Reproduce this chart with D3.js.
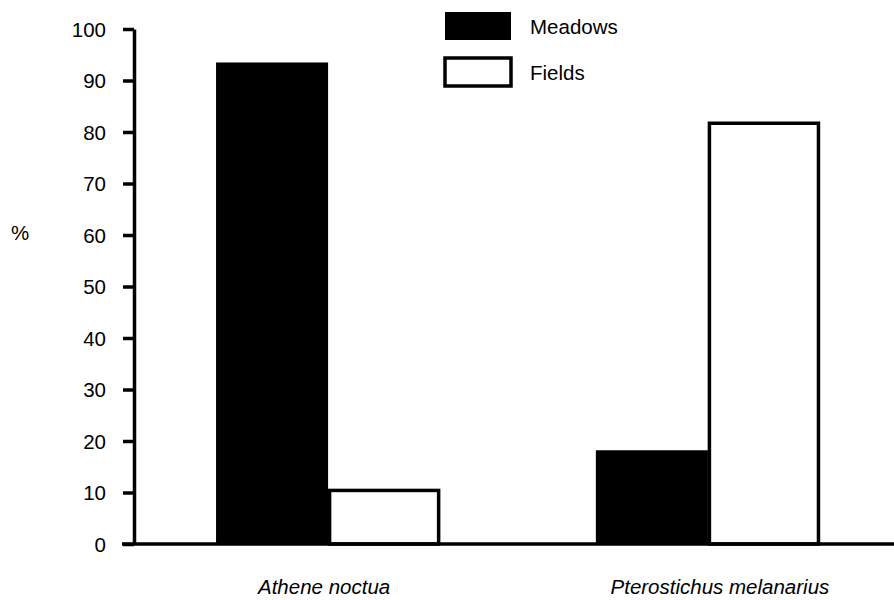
<!DOCTYPE html>
<html>
<head>
<meta charset="utf-8">
<script src="https://cdn.jsdelivr.net/npm/d3@7"></script>
<style>
  body { margin: 0; background: #fff; }
  text { font-family: "Liberation Sans", Arial, sans-serif; fill: #000; }
</style>
</head>
<body>
<svg id="chart"></svg>
<script>
// Percent of prey by habitat
const species = ["Athene noctua", "Pterostichus melanarius"];
const habitats = ["Meadows", "Fields"];
const meadows = [93.5, 18.2];
const fields = [10.4, 81.7];
const yTicks = [0, 10, 20, 30, 40, 50, 60, 70, 80, 90, 100];

const width = 894, height = 600;
const fontSize = "20.5px";

const svg = d3.select("#chart")
    .attr("width", width)
    .attr("height", height);

const data = species.map((s, i) => ({ species: s, Meadows: meadows[i], Fields: fields[i] }));

const x0 = d3.scaleBand()
    .domain(species)
    .range([134, 902])
    .paddingInner(0.41)
    .paddingOuter(0.216);

const x1 = d3.scaleBand()
    .domain(habitats)
    .range([0, x0.bandwidth()]);

const y = d3.scaleLinear().domain([0, 100]).range([544, 29]);

// bars
const groups = svg.selectAll(".group")
    .data(data)
    .enter().append("g")
    .attr("class", "group")
    .attr("transform", d => `translate(${x0(d.species)},0)`);

groups.append("rect")
    .attr("x", x1("Meadows"))
    .attr("y", d => y(d.Meadows))
    .attr("width", x1.bandwidth())
    .attr("height", d => y(0) - y(d.Meadows))
    .attr("fill", "#000");

groups.append("rect")
    .attr("x", x1("Fields") + 1.5)
    .attr("y", d => y(d.Fields))
    .attr("width", x1.bandwidth() - 3)
    .attr("height", d => y(0) - y(d.Fields))
    .attr("fill", "#fff")
    .attr("stroke", "#000")
    .attr("stroke-width", 3.5);

// y axis
const yAxis = svg.append("g")
    .attr("transform", "translate(134,0)")
    .call(d3.axisLeft(y).tickValues(yTicks).tickSize(11).tickSizeOuter(0).tickPadding(17));
yAxis.select(".domain").attr("stroke-width", 3.5);
yAxis.selectAll(".tick line").attr("stroke-width", 3.5);
yAxis.selectAll(".tick text")
    .style("font-size", fontSize)
    .attr("font-family", null)
    .attr("dy", "0.35em");

// x axis
svg.append("line")
    .attr("x1", 122)
    .attr("x2", width)
    .attr("y1", y(0))
    .attr("y2", y(0))
    .attr("stroke", "#000")
    .attr("stroke-width", 3.5);

svg.selectAll(".xlabel")
    .data(species)
    .enter().append("text")
    .attr("class", "xlabel")
    .attr("x", (d, i) => x0(d) + x0.bandwidth() / 2 + (i === 0 ? -4 : 12))
    .attr("y", 594)
    .attr("text-anchor", "middle")
    .style("font-size", fontSize)
    .style("font-style", "italic")
    .text(d => d);

// y label
svg.append("text")
    .attr("x", 20)
    .attr("y", 240)
    .attr("text-anchor", "middle")
    .style("font-size", fontSize)
    .text("%");

// legend
const legend = svg.selectAll(".legend")
    .data(habitats)
    .enter().append("g")
    .attr("class", "legend")
    .attr("transform", (d, i) => `translate(0,${i * 46})`);

legend.append("rect")
    .attr("x", 445)
    .attr("y", 12)
    .attr("width", 66)
    .attr("height", 28)
    .attr("fill", d => d === "Meadows" ? "#000" : "#fff")
    .attr("stroke", d => d === "Meadows" ? "none" : "#000")
    .attr("stroke-width", 3.5);

legend.append("text")
    .attr("x", 530)
    .attr("y", 34)
    .style("font-size", fontSize)
    .text(d => d);
</script>
</body>
</html>
